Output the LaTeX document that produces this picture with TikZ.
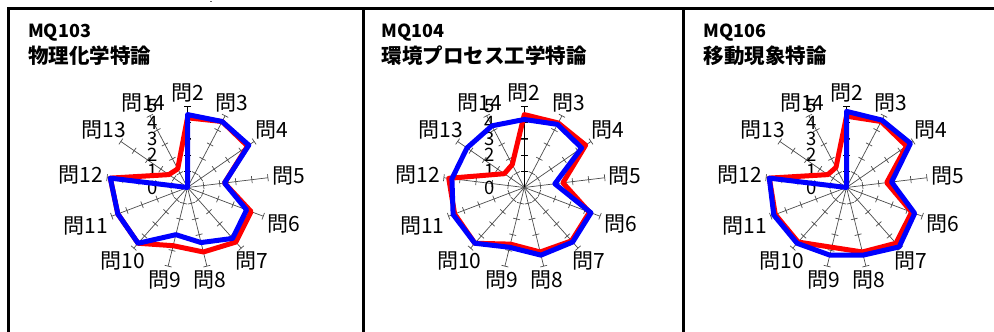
\documentclass[tikz,border=0pt]{standalone}
\usepackage{fontspec}
\setmainfont{Noto Sans CJK JP}

\newcommand{\rstep}{16.2}

\tikzset{
  frame/.style={line width=3pt},
  spoke/.style={black!70,line width=0.7pt},
  mainspoke/.style={black,line width=1.1pt},
  series r/.style={red,line width=5pt,line join=round},
  series b/.style={blue,line width=5pt,line join=round},
  qlabel/.style={inner sep=0pt,font=\fontsize{21}{21}\selectfont},
  scalenum/.style={inner sep=0pt,font=\fontsize{18.5}{18.5}\selectfont},
  codetitle/.style={inner sep=0pt,anchor=base west,font=\bfseries\fontsize{18}{18}\selectfont},
  nametitle/.style={inner sep=0pt,anchor=base west,font=\bfseries\fontsize{20.5}{20.5}\selectfont},
}

\begin{document}
\begin{tikzpicture}[x=1pt,y=1pt]
  \useasboundingbox (0,0) rectangle (994,332);

  % frames
  \draw[frame] (8.7,0) |- (994,323.3);
  \draw[frame] (363,0) -- (363,323.3);
  \draw[frame] (683,0) -- (683,323.3);
  \fill[black!60] (210.3,329.6) rectangle ++(1.6,1.6);

  % titles
  \node[codetitle] (t1) at (28,294.3) {MQ103};
  \node[nametitle] (n1) at (28,268.5) {物理化学特論};
  \node[codetitle] (t2) at (381.7,294.3) {MQ104};
  \node[nametitle] (n2) at (381.7,268.5) {環境プロセス工学特論};
  \node[codetitle] (t3) at (703.3,294.3) {MQ106};
  \node[nametitle] (n3) at (703.3,268.5) {移動現象特論};

  % radar grids
  \foreach \p/\cx in {1/187.5,2/524.3,3/846.5}{
    \coordinate (c\p) at (\cx,144.5);
    \foreach \i [evaluate=\i as \a using 90-\i*360/13,
                 evaluate=\i as \k using int(\i+2)] in {0,...,12}{
      \pgfmathsetmacro\b{mod(630-\i*360/13,360)}
      \begin{scope}[shift={(c\p)},rotate=\a]
        \draw[spoke] (0,0) -- (5*\rstep,0);
        \foreach \r in {1,...,5} \draw[spoke] (\r*\rstep,-3.5) -- (\r*\rstep,3.5);
      \end{scope}
      \node[qlabel,anchor=\b] (p\p-q\k) at ([shift={(\a:5.25*\rstep)}]c\p) {問\k};
    }
    \draw[mainspoke] (c\p) -- ++(0,5*\rstep);
    \foreach \r in {1,...,5}
      \draw[mainspoke] ([shift={(-3.5,\r*\rstep)}]c\p) -- ++(7,0);
    \foreach \r in {0,...,5}
      \node[scalenum] (p\p-s\r) at ([shift={(-35,\r*\rstep)}]c\p) {\r};
  }

  % data
  \foreach \p/\s/\vals in {
      1/r/{4.3,4.6,4.5,2.3,4.2,4.5,4.1,3.7,4.6,4.6,4.8,1.4,1.3},
      1/b/{4.5,4.6,4.6,2.3,3.9,4.2,3.5,3.0,4.6,4.6,4.8,0,0},
      2/r/{4.5,4.5,4.6,2.4,4.3,4.4,4.1,3.6,4.6,4.6,4.7,1.5,1.6},
      2/b/{4.2,4.4,4.3,1.9,4.4,4.5,4.3,3.8,4.6,4.7,4.5,4.3,4.3},
      3/r/{4.4,4.6,4.5,2.5,4.3,4.6,4.1,3.8,4.5,4.7,4.8,1.4,1.4},
      3/b/{4.7,4.7,4.8,2.8,4.5,4.9,4.3,4.3,4.6,4.8,4.8,0,0}}{
    \foreach \v [count=\n from 0] in \vals
      \coordinate (p\p-\s\n) at ([shift={(90-\n*360/13:\v*\rstep)}]c\p);
    \draw[series \s] (p\p-\s0) \foreach \n in {1,...,12} {-- (p\p-\s\n)} -- cycle;
  }
\end{tikzpicture}
\end{document}
